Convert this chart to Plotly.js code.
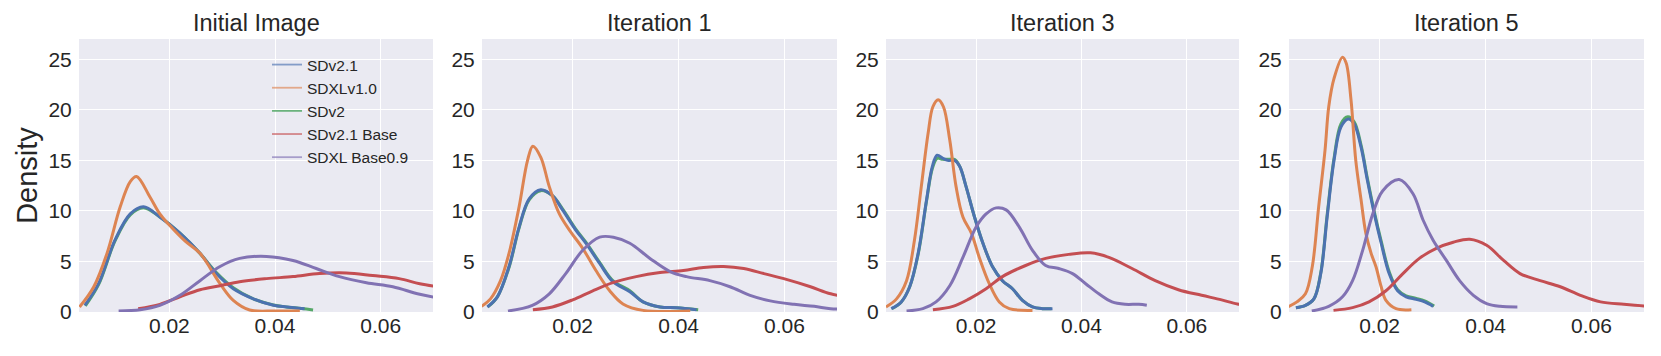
<!DOCTYPE html>
<html>
<head>
<meta charset="utf-8">
<script src="https://cdn.plot.ly/plotly-3.0.1.min.js"></script>
<style>html,body{margin:0;padding:0;background:#fff;}#chart{width:1661px;height:356px;}</style>
</head>
<body>
<div id="chart"></div>
<script>
// ---------- data ----------
const panelTitles = ["Initial Image", "Iteration 1", "Iteration 3", "Iteration 5"];
const seriesNames = ["SDv2.1", "SDXLv1.0", "SDv2", "SDv2.1 Base", "SDXL Base0.9"];
const xTicks = [0.02, 0.04, 0.06];
const yTicks = [0, 5, 10, 15, 20, 25];

// Initial Image
const p0_sdv21_x = [0.0040,0.0066,0.0097,0.0126,0.0151,0.0182,0.0220,0.0258,0.0289,0.0321,0.0359,0.0397,0.0422,0.0456];
const p0_sdv21_y = [0.66,2.8,7.1,9.7,10.4,9.4,7.8,5.8,3.8,2.3,1.3,0.66,0.5,0.33];
const p0_sdxl10_x = [0.0030,0.0057,0.0082,0.0107,0.0126,0.0138,0.0163,0.0182,0.0200,0.0230,0.0258,0.0296,0.0321,0.0352,0.0400,0.0447];
const p0_sdxl10_y = [0.5,2.5,5.8,10.4,12.9,13.4,11.4,9.7,8.6,7.0,5.8,2.8,1.15,0.2,0.1,0.1];
const p0_sdv2_x = [0.0041,0.0066,0.0097,0.0126,0.0151,0.0182,0.0220,0.0258,0.0289,0.0321,0.0359,0.0397,0.0422,0.0450,0.0472];
const p0_sdv2_y = [0.6,2.7,7.0,9.6,10.3,9.4,7.8,5.8,3.9,2.4,1.3,0.7,0.5,0.35,0.2];
const p0_sdv21base_x = [0.0141,0.0182,0.0220,0.0258,0.0296,0.0333,0.0384,0.0434,0.0484,0.0535,0.0585,0.0635,0.0674,0.0720];
const p0_sdv21base_y = [0.33,0.76,1.5,2.2,2.6,3.0,3.3,3.5,3.8,3.86,3.6,3.3,2.8,2.4];
const p0_sdxlbase_x = [0.0104,0.0145,0.0182,0.0220,0.0258,0.0296,0.0333,0.0384,0.0434,0.0478,0.0522,0.0573,0.0623,0.0674,0.0720];
const p0_sdxlbase_y = [0.1,0.23,0.66,1.65,3.1,4.5,5.3,5.5,5.1,4.3,3.5,2.9,2.5,1.75,1.3];

// Iteration 1
const p1_sdv21_x = [0.0039,0.0058,0.0080,0.0099,0.0118,0.0140,0.0162,0.0181,0.0206,0.0225,0.0251,0.0276,0.0308,0.0333,0.0365,0.0396,0.0434];
const p1_sdv21_y = [0.5,1.5,4.5,8.4,11.2,12.1,11.5,10.1,8.1,6.8,4.8,3.0,2.0,1.0,0.5,0.43,0.23];
const p1_sdxl10_x = [0.0028,0.0045,0.0064,0.0080,0.0099,0.0115,0.0125,0.0140,0.0156,0.0175,0.0194,0.0219,0.0244,0.0270,0.0295,0.0333,0.0422];
const p1_sdxl10_y = [0.56,1.3,3.1,5.8,10.4,15.0,16.4,15.3,12.4,9.7,8.1,6.3,4.1,2.1,0.8,0.16,0.1];
const p1_sdv2_x = [0.0040,0.0058,0.0080,0.0099,0.0118,0.0140,0.0162,0.0181,0.0206,0.0225,0.0251,0.0276,0.0308,0.0333,0.0365,0.0396,0.0437];
const p1_sdv2_y = [0.5,1.5,4.4,8.3,11.1,12.0,11.5,10.2,8.2,6.9,4.9,3.1,2.1,1.0,0.5,0.43,0.23];
const p1_sdv21base_x = [0.0125,0.0162,0.0200,0.0238,0.0276,0.0320,0.0365,0.0409,0.0447,0.0485,0.0523,0.0561,0.0605,0.0649,0.0687,0.0720];
const p1_sdv21base_y = [0.23,0.5,1.2,2.1,2.9,3.5,3.9,4.1,4.4,4.5,4.3,3.8,3.2,2.5,1.8,1.5];
const p1_sdxlbase_x = [0.0078,0.0124,0.0156,0.0187,0.0219,0.0251,0.0277,0.0308,0.0346,0.0384,0.0415,0.0459,0.0497,0.0535,0.0573,0.0618,0.0656,0.0687,0.0720];
const p1_sdxlbase_y = [0.1,0.66,1.8,3.8,6.1,7.4,7.4,6.8,5.3,4.0,3.5,3.1,2.5,1.65,1.1,0.76,0.56,0.33,0.25];

// Iteration 3
const p2_sdv21_x = [0.0039,0.0058,0.0074,0.0090,0.0106,0.0117,0.0126,0.0137,0.0146,0.0159,0.0169,0.0181,0.0197,0.0213,0.0231,0.0250,0.0269,0.0288,0.0307,0.0326,0.0345];
const p2_sdv21_y = [0.33,1.0,2.5,5.8,11.1,14.4,15.5,15.2,15.0,15.0,14.4,12.4,9.4,6.8,4.5,3.1,2.3,1.15,0.5,0.33,0.33];
const p2_sdxl10_x = [0.0029,0.0049,0.0068,0.0083,0.0096,0.0109,0.0118,0.0128,0.0138,0.0150,0.0162,0.0175,0.0191,0.0206,0.0225,0.0244,0.0263,0.0307];
const p2_sdxl10_y = [0.5,1.3,3.1,7.1,12.4,17.7,20.3,21.0,20.3,17.0,12.4,9.4,7.8,5.4,2.8,1.0,0.33,0.16];
const p2_sdv2_x = [0.0040,0.0058,0.0074,0.0090,0.0106,0.0117,0.0126,0.0137,0.0146,0.0159,0.0169,0.0181,0.0197,0.0213,0.0231,0.0250,0.0269,0.0288,0.0307,0.0326,0.0343];
const p2_sdv2_y = [0.33,1.0,2.5,5.7,11.0,14.2,15.2,15.1,15.1,15.1,14.4,12.4,9.4,6.8,4.5,3.1,2.3,1.15,0.5,0.33,0.33];
const p2_sdv21base_x = [0.0118,0.0156,0.0187,0.0219,0.0250,0.0294,0.0332,0.0376,0.0417,0.0452,0.0496,0.0540,0.0584,0.0628,0.0666,0.0696,0.0720];
const p2_sdv21base_y = [0.23,0.56,1.3,2.3,3.5,4.6,5.3,5.7,5.85,5.4,4.3,3.1,2.2,1.65,1.2,0.8,0.7];
const p2_sdxlbase_x = [0.0068,0.0099,0.0124,0.0150,0.0175,0.0200,0.0219,0.0238,0.0257,0.0282,0.0307,0.0332,0.0357,0.0383,0.0408,0.0433,0.0458,0.0483,0.0509,0.0524];
const p2_sdxlbase_y = [0.1,0.33,1.0,2.6,5.4,8.4,9.7,10.3,10.1,8.4,6.1,4.6,4.3,3.8,2.8,1.8,1.0,0.76,0.76,0.66];

// Iteration 5
const p3_sdv21_x = [0.0042,0.0060,0.0076,0.0089,0.0101,0.0114,0.0127,0.0141,0.0152,0.0165,0.0177,0.0190,0.0203,0.0218,0.0234,0.0250,0.0269,0.0285,0.0301];
const p3_sdv21_y = [0.43,0.66,1.3,3.8,9.4,15.0,18.3,19.1,18.6,16.3,13.0,9.7,6.8,3.8,2.1,1.5,1.25,1.0,0.56];
const p3_sdxl10_x = [0.0027,0.0044,0.0060,0.0073,0.0085,0.0097,0.0104,0.0114,0.0130,0.0137,0.0146,0.0155,0.0165,0.0174,0.0184,0.0193,0.0203,0.0212,0.0231,0.0260];
const p3_sdxl10_y = [0.5,1.0,1.8,4.5,10.4,16.0,20.3,23.1,25.2,24.6,21.0,15.0,11.1,7.8,5.8,4.5,2.5,1.15,0.33,0.23];
const p3_sdv2_x = [0.0042,0.0060,0.0076,0.0089,0.0101,0.0114,0.0127,0.0140,0.0152,0.0165,0.0177,0.0190,0.0203,0.0218,0.0234,0.0250,0.0269,0.0285,0.0303];
const p3_sdv2_y = [0.43,0.66,1.3,3.9,9.6,15.2,18.6,19.3,18.8,16.5,13.2,9.9,7.0,4.0,2.2,1.6,1.35,1.1,0.6];
const p3_sdv21base_x = [0.0113,0.0149,0.0180,0.0212,0.0244,0.0275,0.0307,0.0339,0.0370,0.0402,0.0434,0.0465,0.0503,0.0541,0.0579,0.0617,0.0661,0.0699,0.0720];
const p3_sdv21base_y = [0.16,0.43,1.0,2.1,3.8,5.3,6.3,6.9,7.2,6.6,5.1,3.8,3.1,2.5,1.65,1.0,0.76,0.6,0.55];
const p3_sdxlbase_x = [0.0072,0.0104,0.0130,0.0149,0.0168,0.0187,0.0206,0.0237,0.0263,0.0282,0.0301,0.0326,0.0351,0.0377,0.0402,0.0427,0.0460];
const p3_sdxlbase_y = [0.1,0.56,1.5,3.1,6.1,9.7,12.0,13.1,11.7,9.1,7.1,5.1,3.1,1.65,0.83,0.56,0.5];

const panels = [
  {sdv21:[p0_sdv21_x,p0_sdv21_y], sdxl10:[p0_sdxl10_x,p0_sdxl10_y], sdv2:[p0_sdv2_x,p0_sdv2_y], base21:[p0_sdv21base_x,p0_sdv21base_y], basexl:[p0_sdxlbase_x,p0_sdxlbase_y]},
  {sdv21:[p1_sdv21_x,p1_sdv21_y], sdxl10:[p1_sdxl10_x,p1_sdxl10_y], sdv2:[p1_sdv2_x,p1_sdv2_y], base21:[p1_sdv21base_x,p1_sdv21base_y], basexl:[p1_sdxlbase_x,p1_sdxlbase_y]},
  {sdv21:[p2_sdv21_x,p2_sdv21_y], sdxl10:[p2_sdxl10_x,p2_sdxl10_y], sdv2:[p2_sdv2_x,p2_sdv2_y], base21:[p2_sdv21base_x,p2_sdv21base_y], basexl:[p2_sdxlbase_x,p2_sdxlbase_y]},
  {sdv21:[p3_sdv21_x,p3_sdv21_y], sdxl10:[p3_sdxl10_x,p3_sdxl10_y], sdv2:[p3_sdv2_x,p3_sdv2_y], base21:[p3_sdv21base_x,p3_sdv21base_y], basexl:[p3_sdxlbase_x,p3_sdxlbase_y]}
];

// ---------- styling ----------
const W = 1661, H = 356;
const colors = {sdv21:"#4C72B0", sdxl10:"#DD8452", sdv2:"#55A868", base21:"#C44E52", basexl:"#8172B3"};
const legendColors = ["rgba(76,114,176,0.65)","rgba(221,132,82,0.65)","rgba(85,168,104,0.85)","rgba(196,78,82,0.65)","rgba(129,114,179,0.65)"];
const drawOrder = ["sdv2","sdv21","sdxl10","base21","basexl"];
const panelPx = [[79,433],[482,837],[886,1239],[1289,1644]];
const plotTop = 39, plotBottom = 312;
const font = "Liberation Sans, Arial, Helvetica, sans-serif";
const textColor = "#262626";

const traces = [];
const layout = {
  width: W, height: H,
  margin: {l:0, r:0, t:0, b:0},
  paper_bgcolor: "#ffffff",
  plot_bgcolor: "#EAEAF2",
  font: {family: font, color: textColor},
  showlegend: true,
  legend: {
    x: 267/W, xanchor: "left", y: 1 - 48/H, yanchor: "top",
    bgcolor: "rgba(0,0,0,0)", borderwidth: 0,
    font: {family: font, size: 15.5, color: textColor},
    tracegroupgap: 0
  },
  annotations: []
};

panels.forEach((p, i) => {
  const ax = i === 0 ? "" : String(i + 1);
  drawOrder.forEach(k => {
    traces.push({
      type: "scatter", mode: "lines",
      x: p[k][0], y: p[k][1],
      xaxis: "x" + ax, yaxis: "y" + ax,
      line: {color: colors[k], width: 3, shape: "spline", smoothing: 1},
      showlegend: false, hoverinfo: "skip"
    });
  });
  layout["xaxis" + ax] = {
    domain: [panelPx[i][0]/W, panelPx[i][1]/W],
    range: [0.0029, 0.0699],
    tickvals: xTicks, ticktext: xTicks.map(v => v.toFixed(2)),
    showgrid: true, gridcolor: "#ffffff", gridwidth: 1,
    zeroline: false, showline: false,
    ticks: "", ticklabelstandoff: -1,
    tickfont: {family: font, size: 21, color: textColor},
    anchor: "y" + ax
  };
  layout["yaxis" + ax] = {
    domain: [1 - plotBottom/H, 1 - plotTop/H],
    range: [0, 27],
    tickvals: yTicks,
    showgrid: true, gridcolor: "#ffffff", gridwidth: 1,
    zeroline: false, showline: false,
    ticks: "outside", ticklen: 2, tickcolor: "rgba(0,0,0,0)",
    tickfont: {family: font, size: 21, color: textColor},
    anchor: "x" + ax
  };
  layout.annotations.push({
    text: panelTitles[i], showarrow: false,
    xref: "paper", yref: "paper",
    x: (panelPx[i][0] + panelPx[i][1]) / 2 / W, xanchor: "center",
    y: 1 - plotTop/H, yanchor: "bottom", yshift: 1,
    font: {family: font, size: 23.5, color: textColor}
  });
});
layout.yaxis.title = {text: "Density", font: {family: font, size: 29, color: textColor}, standoff: 2};

// legend-only entries
seriesNames.forEach((n, j) => {
  traces.push({
    type: "scatter", mode: "lines", x: [null], y: [null],
    name: n, xaxis: "x", yaxis: "y",
    line: {color: legendColors[j], width: 1.8},
    showlegend: true, hoverinfo: "skip"
  });
});

Plotly.newPlot("chart", traces, layout, {displayModeBar: false, staticPlot: true});
</script>
</body>
</html>
